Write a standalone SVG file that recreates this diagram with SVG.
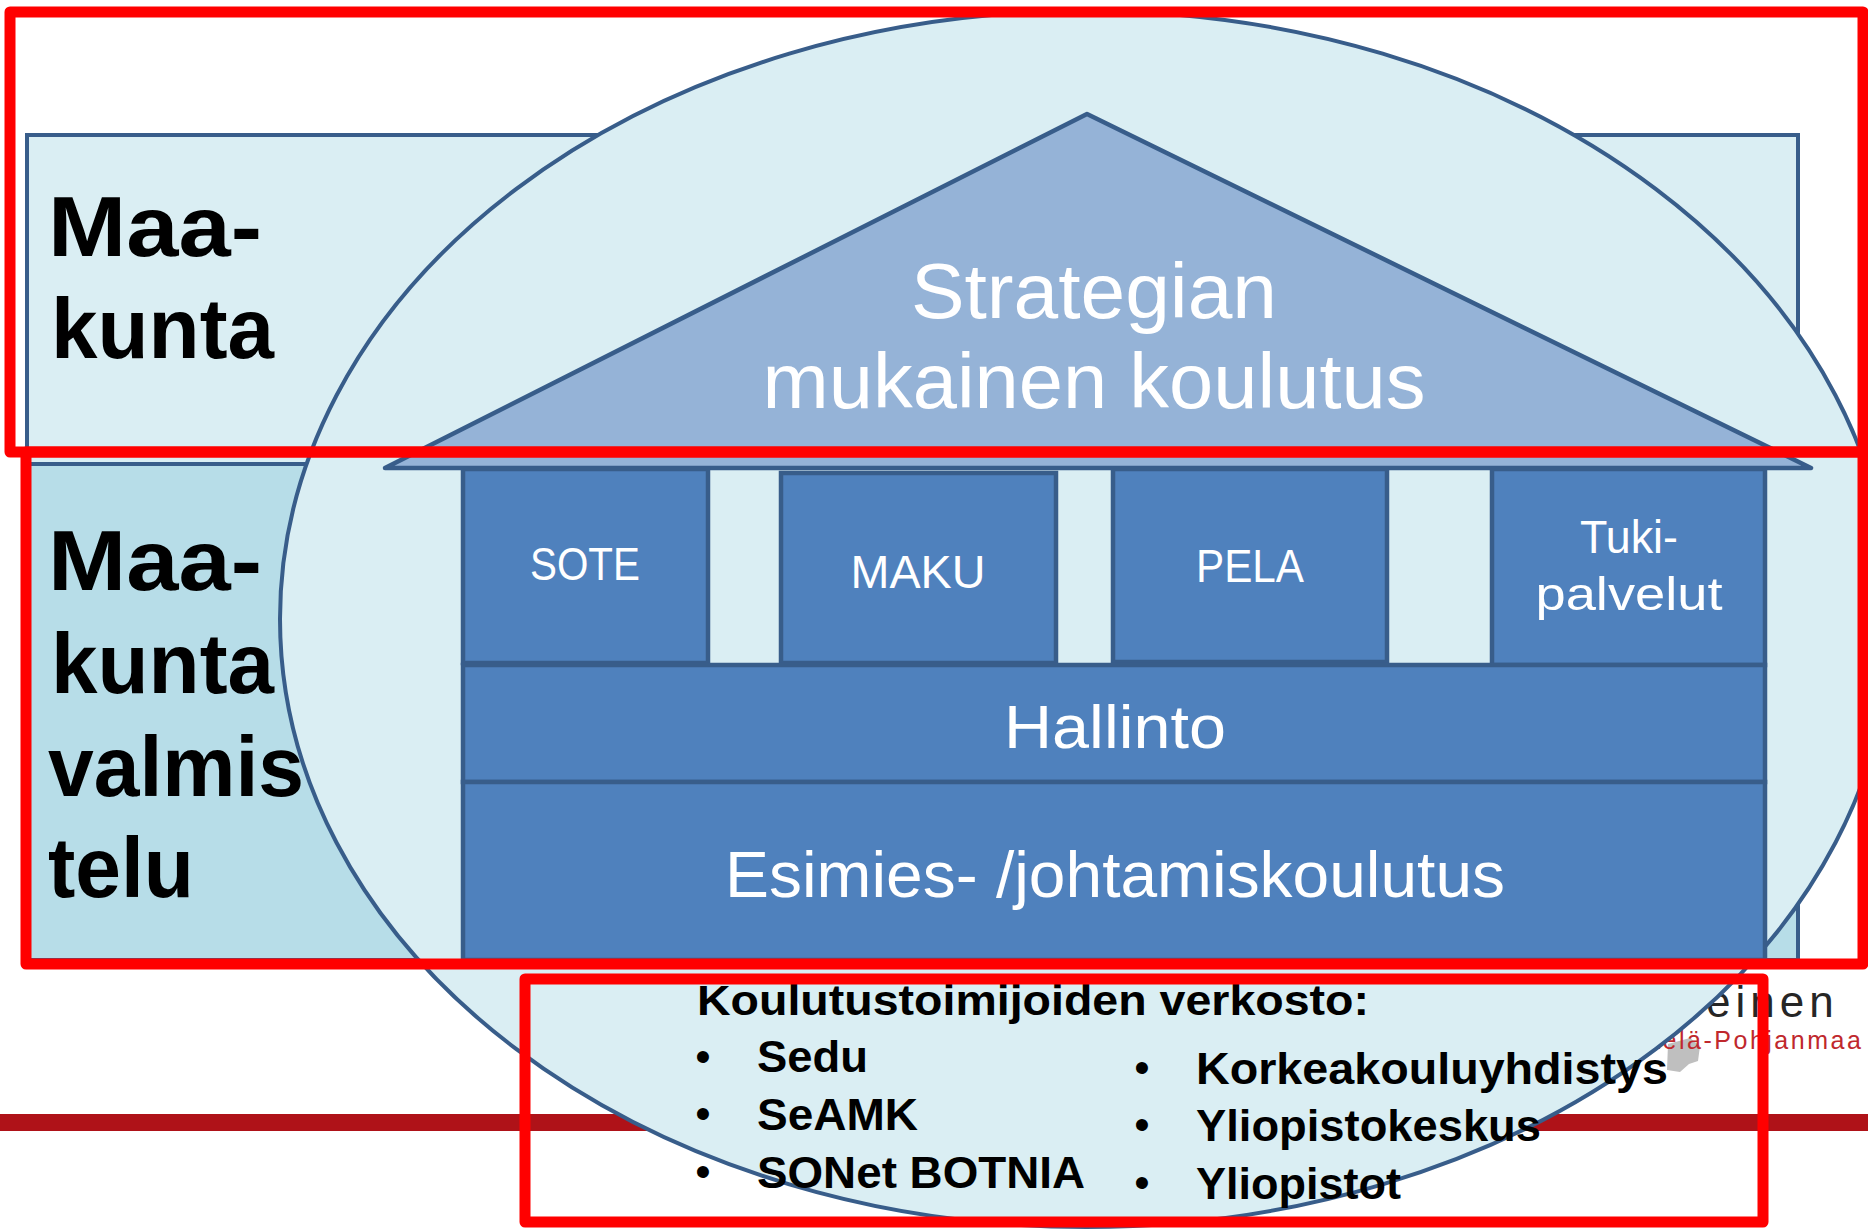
<svg xmlns="http://www.w3.org/2000/svg" width="1868" height="1230" viewBox="0 0 1868 1230">
<style>
.frame{fill:#DAEEF3;stroke:#385D8A;stroke-width:4}
.frame2{fill:#B7DDE8;stroke:#385D8A;stroke-width:4}
.box{fill:#4F81BD;stroke:#385D8A;stroke-width:4.5}
.w{fill:#FFFFFF;font-family:"Liberation Sans",Arial,sans-serif;text-anchor:middle}
.side{fill:#000;font-family:"Liberation Sans",Arial,sans-serif;font-weight:bold;font-size:85px}
.net{fill:#000;font-family:"Liberation Sans",Arial,sans-serif;font-weight:bold;font-size:45px}
.bul{fill:#000;font-family:"Liberation Sans",Arial,sans-serif;font-size:44px;text-anchor:middle}
.hl{fill:none;stroke:#FF0000;stroke-width:11;stroke-linejoin:round}
</style>
<rect width="1868" height="1230" fill="#FFFFFF"/>
<g id="background-band">
<rect x="0" y="1114" width="1868" height="17" fill="#AF1218"/>
</g>
<g id="logo">
<text x="1706" y="1017" font-family="Liberation Sans,Arial,sans-serif" font-size="44" letter-spacing="5" fill="#262626">einen</text>
<polygon points="1668,1044 1690,1038 1700,1046 1698,1061 1689,1064 1680,1072 1667,1070" fill="#BFBFBF"/>
<text x="1634" y="1049" font-family="Liberation Sans,Arial,sans-serif" font-size="25" letter-spacing="2.5" fill="#C0282D">Etelä-Pohjanmaa</text>
</g>
<g id="maakunta">
<rect class="frame" x="27" y="135" width="1771" height="329"/>
<text class="side" x="48" y="256" textLength="214" lengthAdjust="spacingAndGlyphs">Maa-</text>
<text class="side" x="51" y="358" textLength="223" lengthAdjust="spacingAndGlyphs">kunta</text>
</g>
<g id="maakuntavalmistelu">
<rect class="frame2" x="27" y="464" width="1771" height="496"/>
</g>
<g id="ellipse">
<ellipse cx="1086" cy="619" rx="806" ry="608" fill="#DAEEF3" stroke="#385D8A" stroke-width="4"/>
</g>
<g id="maakuntavalmistelu-label">
<text class="side" x="48" y="590" textLength="214" lengthAdjust="spacingAndGlyphs">Maa-</text>
<text class="side" x="51" y="693" textLength="223" lengthAdjust="spacingAndGlyphs">kunta</text>
<text class="side" x="48" y="796" textLength="256" lengthAdjust="spacingAndGlyphs">valmis</text>
<text class="side" x="48" y="897" textLength="146" lengthAdjust="spacingAndGlyphs">telu</text>
</g>
<g id="roof">
<polygon points="1087,114 1811,468 385,468" fill="#95B3D7" stroke="#385D8A" stroke-width="4.5" stroke-linejoin="round"/>
<text class="w" x="1094" y="318" font-size="77" textLength="366" lengthAdjust="spacingAndGlyphs">Strategian</text>
<text class="w" x="1094" y="408" font-size="77" textLength="663" lengthAdjust="spacingAndGlyphs">mukainen koulutus</text>
</g>
<g id="sote">
<rect class="box" x="463" y="469" width="245" height="194"/>
<text class="w" x="585" y="580" font-size="46" textLength="110" lengthAdjust="spacingAndGlyphs">SOTE</text>
</g>
<g id="maku">
<rect class="box" x="781" y="473" width="275" height="190"/>
<text class="w" x="918" y="588" font-size="46" textLength="135" lengthAdjust="spacingAndGlyphs">MAKU</text>
</g>
<g id="pela">
<rect class="box" x="1113" y="469" width="274" height="193"/>
<text class="w" x="1250" y="582" font-size="46" textLength="108" lengthAdjust="spacingAndGlyphs">PELA</text>
</g>
<g id="tukipalvelut">
<rect class="box" x="1492" y="469" width="273" height="196"/>
<text class="w" x="1629" y="553" font-size="46" textLength="98" lengthAdjust="spacingAndGlyphs">Tuki-</text>
<text class="w" x="1629" y="610" font-size="46" textLength="187" lengthAdjust="spacingAndGlyphs">palvelut</text>
</g>
<g id="hallinto">
<rect class="box" x="463" y="665" width="1302" height="117"/>
<text class="w" x="1115" y="748" font-size="62" textLength="222" lengthAdjust="spacingAndGlyphs">Hallinto</text>
</g>
<g id="esimies">
<rect class="box" x="463" y="782" width="1302" height="178"/>
<text class="w" x="1115" y="897" font-size="64" textLength="780" lengthAdjust="spacingAndGlyphs">Esimies- /johtamiskoulutus</text>
</g>
<g id="network">
<text x="697" y="1015" fill="#000" font-family="Liberation Sans,Arial,sans-serif" font-weight="bold" font-size="42" textLength="672" lengthAdjust="spacingAndGlyphs">Koulutustoimijoiden verkosto:</text>
<text class="bul" x="703" y="1072">•</text>
<text class="bul" x="703" y="1129">•</text>
<text class="bul" x="703" y="1187">•</text>
<text class="net" x="757" y="1072" textLength="111" lengthAdjust="spacingAndGlyphs">Sedu</text>
<text class="net" x="757" y="1130" textLength="161" lengthAdjust="spacingAndGlyphs">SeAMK</text>
<text class="net" x="757" y="1188" textLength="328" lengthAdjust="spacingAndGlyphs">SONet BOTNIA</text>
<text class="bul" x="1142" y="1083">•</text>
<text class="bul" x="1142" y="1140">•</text>
<text class="bul" x="1142" y="1198">•</text>
<text class="net" x="1196" y="1084" textLength="472" lengthAdjust="spacingAndGlyphs">Korkeakouluyhdistys</text>
<text class="net" x="1196" y="1141" textLength="345" lengthAdjust="spacingAndGlyphs">Yliopistokeskus</text>
<text class="net" x="1196" y="1199" textLength="205" lengthAdjust="spacingAndGlyphs">Yliopistot</text>
</g>
<g id="connectors"/>
<g id="highlights">
<rect class="hl" x="10" y="12" width="1853" height="440"/>
<rect class="hl" x="26" y="452" width="1837" height="512"/>
<rect class="hl" x="525" y="979" width="1238" height="243"/>
</g>
</svg>
